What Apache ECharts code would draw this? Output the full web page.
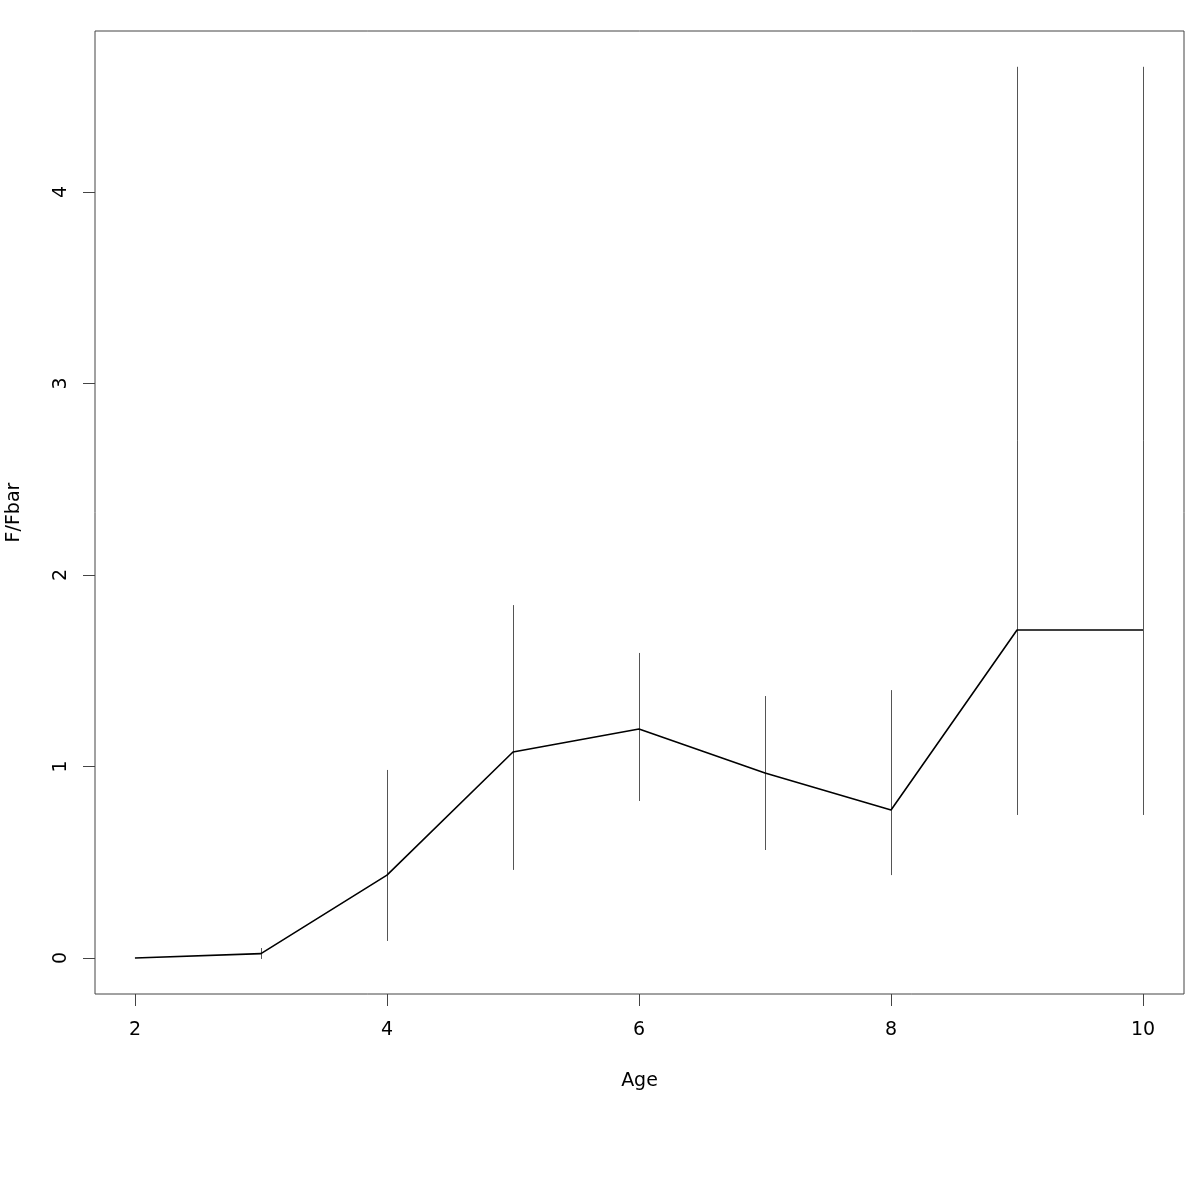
<!DOCTYPE html>
<html>
<head>
<meta charset="utf-8">
<script src="https://cdn.jsdelivr.net/npm/echarts@6/dist/echarts.min.js"></script>
<style>html,body{margin:0;padding:0;background:#fff}#c{width:1200px;height:1200px}</style>
</head>
<body>
<div id="c"></div>
<script>
const ages = [2, 3, 4, 5, 6, 7, 8, 9, 10];
const fRatio = [0.0, 0.023, 0.433, 1.076, 1.196, 0.966, 0.773, 1.713, 1.713];
const lower = [0.0, -0.005, 0.089, 0.46, 0.82, 0.564, 0.433, 0.747, 0.747];
const upper = [0.0, 0.052, 0.982, 1.843, 1.593, 1.368, 1.399, 4.654, 4.654];
const xTicks = [2, 4, 6, 8, 10];
const yTicks = [0, 1, 2, 3, 4];

const font = 'DejaVu Sans';
const chart = echarts.init(document.getElementById('c'));
chart.setOption({
  animation: false,
  backgroundColor: '#fff',
  grid: {left: 95, right: 16, top: 31, bottom: 206, containLabel: false, outerBoundsMode: 'none', show: true, borderColor: '#444', borderWidth: 1, backgroundColor: 'transparent'},
  xAxis: {
    type: 'value', min: 1.683, max: 10.325,
    name: 'Age', nameLocation: 'middle', nameGap: 78,
    nameTextStyle: {fontFamily: font, fontSize: 19, color: '#000'},
    axisLine: {show: false, onZero: false},
    splitLine: {show: false},
    axisTick: {show: true, length: 12, inside: false, customValues: xTicks, lineStyle: {color: '#444'}},
    axisLabel: {customValues: xTicks, fontFamily: font, fontSize: 19, color: '#000', margin: 27}
  },
  yAxis: {
    type: 'value', min: -0.188, max: 4.841,
    name: 'F/Fbar', nameLocation: 'middle', nameGap: 71, nameRotate: 90,
    nameTextStyle: {fontFamily: font, fontSize: 19, color: '#000'},
    axisLine: {show: false, onZero: false},
    splitLine: {show: false},
    axisTick: {show: true, length: 12, inside: false, customValues: yTicks, lineStyle: {color: '#444'}},
    axisLabel: {customValues: yTicks, rotate: 90, fontFamily: font, fontSize: 19, color: '#000', margin: 24}
  },
  series: [
    {
      type: 'custom',
      data: ages.map((a, i) => [a, lower[i], upper[i]]),
      renderItem: function (params, api) {
        const p1 = api.coord([api.value(0), api.value(1)]);
        const p2 = api.coord([api.value(0), api.value(2)]);
        const x = Math.round(p1[0]) + 0.5;
        return {type: 'line', shape: {x1: x, y1: p1[1], x2: x, y2: p2[1]}, style: {stroke: '#555', lineWidth: 1}};
      },
      silent: true, z: 1
    },
    {
      type: 'line',
      data: ages.map((a, i) => [a, fRatio[i]]),
      showSymbol: false, symbol: 'none',
      lineStyle: {color: '#000', width: 1.6},
      silent: true, z: 2
    }
  ]
});
</script>
</body>
</html>
